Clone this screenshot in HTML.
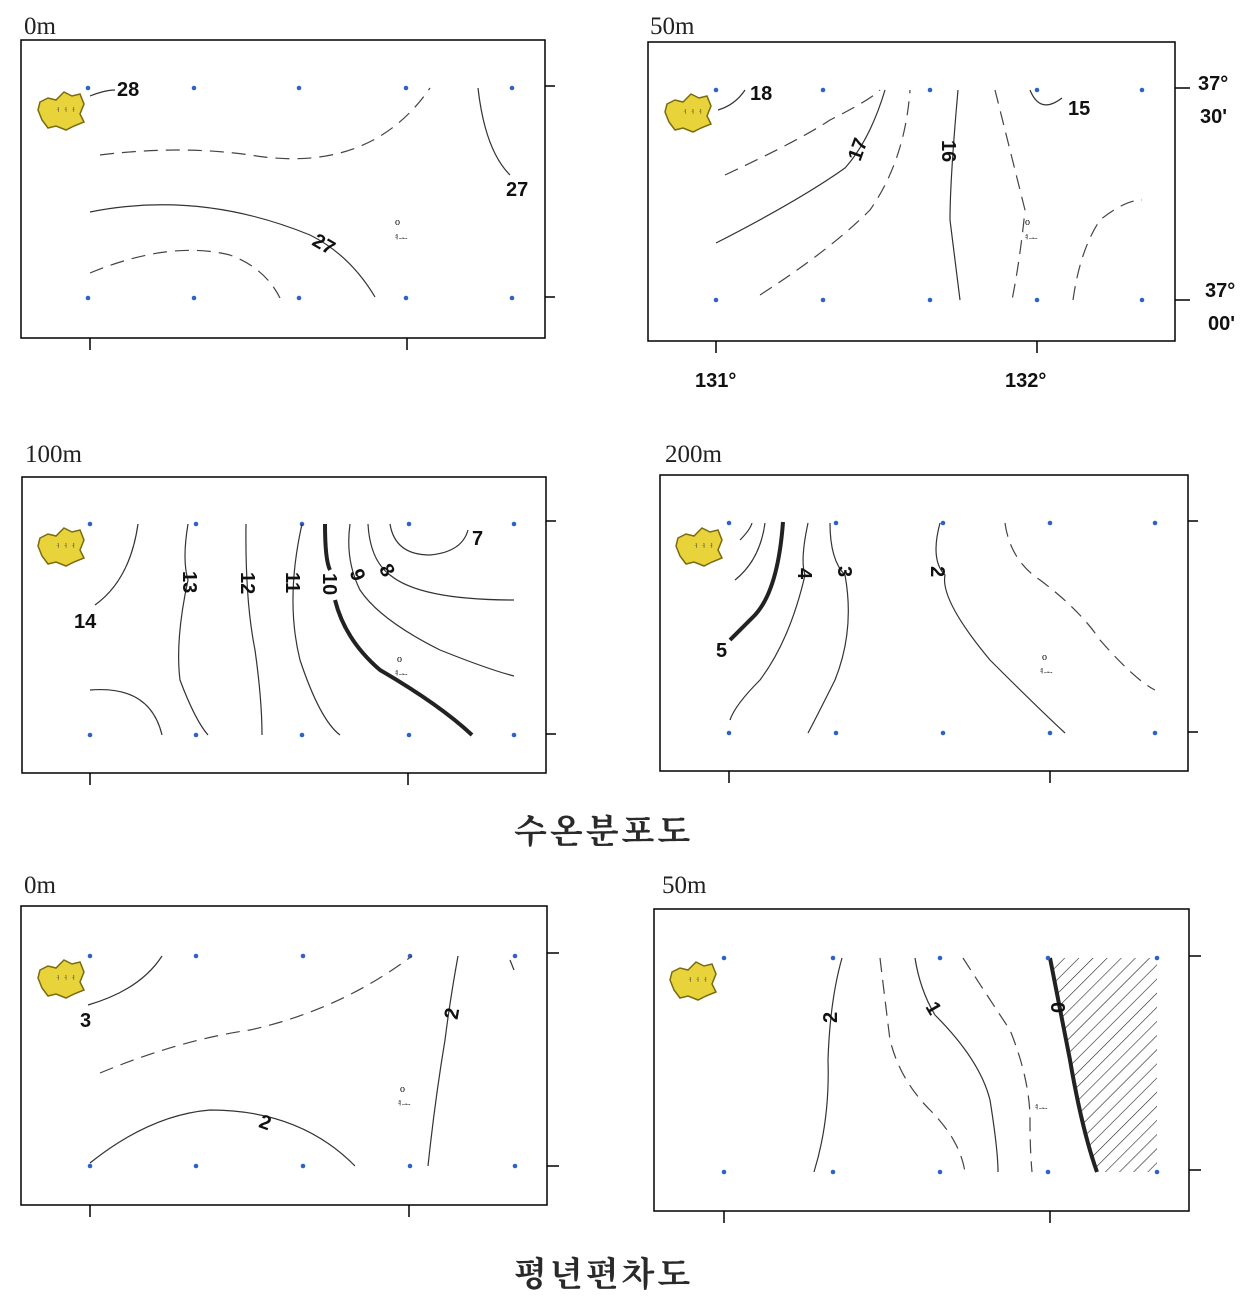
<!DOCTYPE html>
<html><head><meta charset="utf-8"><style>
html,body{margin:0;padding:0;background:#fff}
svg{display:block}
text{font-family:"Liberation Serif","Noto Serif CJK SC",serif}
.f{fill:none;stroke:#000;stroke-width:1.5}
.c{fill:none;stroke:#333;stroke-width:1.2}
.d{fill:none;stroke:#444;stroke-width:1.2;stroke-dasharray:14 8}
.b{fill:none;stroke:#222;stroke-width:4}
.dot{fill:#2f62c8}
.lb{font-family:"Liberation Sans",sans-serif;font-size:20px;fill:#111;font-weight:bold}
.ttl{font-size:25px;fill:#222}
</style></head><body>
<svg width="1255" height="1309" viewBox="0 0 1255 1309" xmlns="http://www.w3.org/2000/svg">
<defs>
<g id="isl"><path d="M-22,-8 L-14,-12 L-6,-10 L2,-18 L10,-14 L18,-16 L22,-6 L18,4 L22,12 L12,16 L4,20 L-6,16 L-14,18 L-20,10 L-24,0 Z" fill="#e8d33a" stroke="#7a6a10" stroke-width="1.5"/>
<text x="-10" y="4" font-size="8" fill="#444">ᅥᅥᅥ</text></g>
<pattern id="h" width="10" height="10" patternUnits="userSpaceOnUse" patternTransform="rotate(45)"><line x1="0" y1="0" x2="0" y2="10" stroke="#222" stroke-width="1.2"/></pattern>
</defs>

<!-- Panel 1: 0m -->
<text x="24" y="34" class="ttl">0m</text>
<rect x="21" y="40" width="524" height="298" class="f"/>
<path d="M545,86h10M545,297h10M90,338v12M407,338v12" class="f"/>
<g class="dot"><circle cx="88" cy="88" r="2.3"/><circle cx="194" cy="88" r="2.3"/><circle cx="299" cy="88" r="2.3"/><circle cx="406" cy="88" r="2.3"/><circle cx="512" cy="88" r="2.3"/><circle cx="88" cy="298" r="2.3"/><circle cx="194" cy="298" r="2.3"/><circle cx="299" cy="298" r="2.3"/><circle cx="406" cy="298" r="2.3"/><circle cx="512" cy="298" r="2.3"/></g>
<use href="#isl" x="62" y="110"/>
<path d="M90,96 Q105,90 115,90" class="c"/><text x="117" y="96" class="lb" font-size="16">28</text>
<path d="M478,88 Q485,150 510,175" class="c"/><text x="506" y="196" class="lb" font-size="16">27</text>
<path d="M100,155 Q180,145 250,155 Q370,175 430,88" class="d"/>
<path d="M90,212 Q200,190 310,235 Q350,255 375,297" class="c"/><text x="312" y="250" class="lb" font-size="18" transform="rotate(30 322 245)">27</text>
<path d="M90,273 Q170,240 230,255 Q265,268 280,298" class="d"/>
<text x="395" y="225" font-size="10">o</text><text x="390" y="242" font-size="9">ᅧᅩ</text>

<!-- Panel 2: 50m -->
<text x="650" y="34" class="ttl">50m</text>
<rect x="648" y="42" width="527" height="299" class="f"/>
<path d="M1175,88h15M1175,300h15M716,341v12M1037,341v12" class="f"/>
<g class="dot"><circle cx="716" cy="90" r="2.3"/><circle cx="823" cy="90" r="2.3"/><circle cx="930" cy="90" r="2.3"/><circle cx="1037" cy="90" r="2.3"/><circle cx="1142" cy="90" r="2.3"/><circle cx="716" cy="300" r="2.3"/><circle cx="823" cy="300" r="2.3"/><circle cx="930" cy="300" r="2.3"/><circle cx="1037" cy="300" r="2.3"/><circle cx="1142" cy="300" r="2.3"/></g>
<use href="#isl" x="689" y="112"/>
<path d="M718,110 Q735,105 745,90" class="c"/><text x="750" y="100" class="lb" font-size="16">18</text>
<path d="M1030,90 Q1040,115 1062,98" class="c"/><text x="1068" y="115" class="lb" font-size="16">15</text>
<path d="M725,175 Q800,140 830,120 Q870,100 880,90" class="d"/>
<path d="M716,243 Q800,200 845,168 Q870,140 885,90" class="c"/><text x="846" y="158" class="lb" transform="rotate(-70 856 150)">17</text>
<path d="M760,295 Q830,250 870,210 Q905,160 910,90" class="d"/>
<path d="M958,90 Q950,180 950,220 Q955,260 960,300" class="c"/><text x="942" y="160" class="lb" transform="rotate(90 952 150)">16</text>
<path d="M995,90 Q1010,150 1025,210 Q1020,260 1012,300" class="d"/>
<path d="M1073,300 Q1080,250 1100,220 Q1125,200 1142,200" class="d"/>
<text x="1025" y="225" font-size="10">o</text><text x="1020" y="242" font-size="9">ᅧᅩ</text>
<text x="1198" y="90" class="lb" font-size="24">37°</text><text x="1200" y="123" class="lb" font-size="24">30'</text>
<text x="1205" y="297" class="lb" font-size="24">37°</text><text x="1208" y="330" class="lb" font-size="24">00'</text>
<text x="695" y="387" class="lb" font-size="24">131°</text><text x="1005" y="387" class="lb" font-size="24">132°</text>

<!-- Panel 3: 100m -->
<text x="25" y="462" class="ttl">100m</text>
<rect x="22" y="477" width="524" height="296" class="f"/>
<path d="M546,521h10M546,734h10M90,773v12M408,773v12" class="f"/>
<g class="dot"><circle cx="90" cy="524" r="2.3"/><circle cx="196" cy="524" r="2.3"/><circle cx="302" cy="524" r="2.3"/><circle cx="409" cy="524" r="2.3"/><circle cx="514" cy="524" r="2.3"/><circle cx="90" cy="735" r="2.3"/><circle cx="196" cy="735" r="2.3"/><circle cx="302" cy="735" r="2.3"/><circle cx="409" cy="735" r="2.3"/><circle cx="514" cy="735" r="2.3"/></g>
<use href="#isl" x="62" y="546"/>
<path d="M95,605 Q130,580 138,524" class="c"/><text x="74" y="628" class="lb" font-size="18">14</text>
<path d="M90,690 Q150,685 162,735" class="c"/>
<path d="M188,524 Q182,560 188,580 Q175,640 180,680 Q195,720 208,735" class="c"/><text x="178" y="590" class="lb" transform="rotate(90 190 583)">13</text>
<path d="M246,524 Q245,600 255,650 Q262,700 262,735" class="c"/><text x="237" y="590" class="lb" transform="rotate(90 248 583)">12</text>
<path d="M302,524 Q285,600 300,660 Q320,720 340,735" class="c"/><text x="282" y="590" class="lb" transform="rotate(90 293 583)">11</text>
<path d="M325,524 Q325,560 330,570" class="b"/>
<path d="M335,600 Q345,640 380,670 Q440,705 472,735" class="b"/><text x="318" y="592" class="lb" transform="rotate(90 330 585)">10</text>
<path d="M350,524 Q345,560 360,590 Q380,620 440,650 Q490,670 514,676" class="c"/><text x="350" y="585" class="lb" transform="rotate(70 359 578)">9</text>
<path d="M368,524 Q370,560 390,575 Q420,600 514,600" class="c" stroke="#666"/><text x="380" y="580" class="lb" transform="rotate(60 389 573)">8</text>
<path d="M390,524 Q395,555 430,555 Q462,552 468,530" class="c"/><text x="472" y="545" class="lb">7</text>
<text x="397" y="662" font-size="10">o</text><text x="390" y="678" font-size="9">ᅧᅩ</text>

<!-- Panel 4: 200m -->
<text x="665" y="462" class="ttl">200m</text>
<rect x="660" y="475" width="528" height="296" class="f"/>
<path d="M1188,521h10M1188,732h10M729,771v12M1050,771v12" class="f"/>
<g class="dot"><circle cx="729" cy="523" r="2.3"/><circle cx="836" cy="523" r="2.3"/><circle cx="943" cy="523" r="2.3"/><circle cx="1050" cy="523" r="2.3"/><circle cx="1155" cy="523" r="2.3"/><circle cx="729" cy="733" r="2.3"/><circle cx="836" cy="733" r="2.3"/><circle cx="943" cy="733" r="2.3"/><circle cx="1050" cy="733" r="2.3"/><circle cx="1155" cy="733" r="2.3"/></g>
<use href="#isl" x="700" y="546"/>
<path d="M783,522 Q778,590 755,615 Q740,630 730,640" class="b"/><text x="716" y="657" class="lb">5</text>
<path d="M735,580 Q760,560 765,523" class="c"/>
<path d="M740,540 Q750,530 752,523" class="c"/>
<path d="M808,523 Q800,560 805,575 Q790,640 760,680 Q735,705 730,720" class="c"/><text x="795" y="585" class="lb" transform="rotate(90 805 578)">4</text>
<path d="M830,523 Q830,560 845,575 Q855,630 835,680 Q815,720 808,733" class="c"/><text x="835" y="583" class="lb" transform="rotate(90 845 576)">3</text>
<path d="M940,523 Q930,560 945,575 Q940,600 990,660 Q1040,710 1065,733" class="c"/><text x="928" y="583" class="lb" transform="rotate(90 938 576)">2</text>
<path d="M1005,523 Q1010,560 1040,580 Q1080,610 1100,640 Q1135,680 1155,690" class="d"/>
<text x="1042" y="660" font-size="10">o</text><text x="1035" y="676" font-size="9">ᅧᅩ</text>

<text x="514" y="843" font-size="34" font-weight="bold" fill="#2a2a2a" style="letter-spacing:3px">수온분포도</text>

<!-- Panel 5: 0m -->
<text x="24" y="893" class="ttl">0m</text>
<rect x="21" y="906" width="526" height="299" class="f"/>
<path d="M547,953h12M547,1166h12M90,1205v12M409,1205v12" class="f"/>
<g class="dot"><circle cx="90" cy="956" r="2.3"/><circle cx="196" cy="956" r="2.3"/><circle cx="303" cy="956" r="2.3"/><circle cx="410" cy="956" r="2.3"/><circle cx="515" cy="956" r="2.3"/><circle cx="90" cy="1166" r="2.3"/><circle cx="196" cy="1166" r="2.3"/><circle cx="303" cy="1166" r="2.3"/><circle cx="410" cy="1166" r="2.3"/><circle cx="515" cy="1166" r="2.3"/></g>
<use href="#isl" x="62" y="978"/>
<path d="M88,1005 Q140,990 162,956" class="c"/><text x="80" y="1027" class="lb">3</text>
<path d="M100,1073 Q180,1040 250,1030 Q340,1010 412,956" class="d"/>
<path d="M90,1163 Q150,1115 210,1110 Q300,1110 355,1166" class="c"/><text x="260" y="1130" class="lb" transform="rotate(20 268 1122)">2</text>
<path d="M458,956 Q450,1000 445,1040 Q435,1100 428,1166" class="c"/><text x="443" y="1017" class="lb" transform="rotate(-80 452 1010)">2</text>
<path d="M510,960 Q512,965 514,970" class="c"/>
<text x="400" y="1092" font-size="10">o</text><text x="393" y="1108" font-size="9">ᅧᅩ</text>

<!-- Panel 6: 50m -->
<text x="662" y="893" class="ttl">50m</text>
<rect x="654" y="909" width="535" height="302" class="f"/>
<path d="M1189,956h12M1189,1170h12M724,1211v12M1050,1211v12" class="f"/>
<path d="M1050,958 Q1060,1010 1070,1060 Q1082,1130 1097,1172 L1157,1172 L1157,958 Z" fill="url(#h)"/>
<path d="M1050,958 Q1060,1010 1070,1060 Q1082,1130 1097,1172" class="b" stroke-width="3.5"/>
<g class="dot"><circle cx="724" cy="958" r="2.3"/><circle cx="833" cy="958" r="2.3"/><circle cx="940" cy="958" r="2.3"/><circle cx="1048" cy="958" r="2.3"/><circle cx="1157" cy="958" r="2.3"/><circle cx="724" cy="1172" r="2.3"/><circle cx="833" cy="1172" r="2.3"/><circle cx="940" cy="1172" r="2.3"/><circle cx="1048" cy="1172" r="2.3"/><circle cx="1157" cy="1172" r="2.3"/></g>
<use href="#isl" x="694" y="980"/>
<path d="M842,958 Q830,1000 828,1060 Q830,1120 814,1172" class="c"/><text x="820" y="1020" class="lb" transform="rotate(-90 830 1013)">2</text>
<path d="M880,958 Q885,1000 890,1040 Q900,1080 930,1110 Q960,1140 965,1172" class="d"/>
<path d="M915,958 Q920,990 935,1015 Q980,1060 990,1100 Q998,1150 998,1172" class="c"/><text x="927" y="1017" class="lb" transform="rotate(60 935 1010)">1</text>
<path d="M963,958 Q990,1000 1010,1030 Q1030,1080 1030,1120 Q1030,1150 1032,1172" class="d"/>
<text x="1050" y="1017" class="lb" transform="rotate(90 1058 1010)">0</text>
<text x="1030" y="1112" font-size="9">ᅧᅩ</text>

<text x="514" y="1286" font-size="34" font-weight="bold" fill="#2a2a2a" style="letter-spacing:3px">평년편차도</text>
</svg>
</body></html>
